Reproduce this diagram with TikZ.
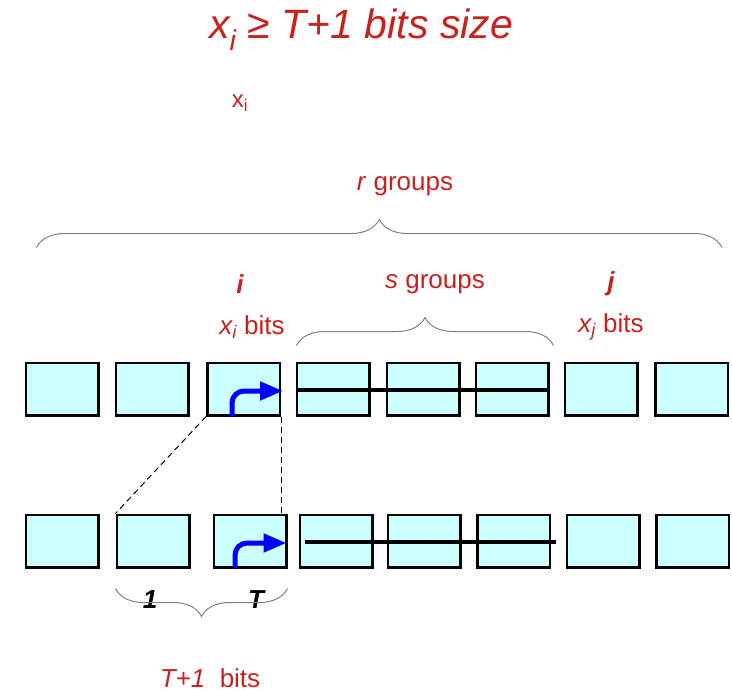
\documentclass[tikz,border=0pt]{standalone}
\usepackage{fontspec}
\setmainfont{Liberation Sans}
\usetikzlibrary{arrows.meta, decorations.pathreplacing}
\definecolor{labelred}{HTML}{C9211E}
\definecolor{cellfill}{HTML}{CCFFFF}
\tikzset{
  cell/.style={
    draw=black, line width=2.5pt, fill=cellfill,
    minimum width=72.5pt, minimum height=52.5pt, inner sep=0pt
  },
  lbl/.style={text=labelred, font=\fontsize{26}{30}\selectfont, inner sep=0pt},
  idx/.style={lbl, font=\fontsize{26}{30}\selectfont\bfseries\itshape},
  bitmark/.style={font=\fontsize{26}{30}\selectfont\bfseries\itshape, inner sep=0pt},
  grp/.style={draw=gray, line width=1pt, decorate, decoration={brace, amplitude=28pt}},
  flow/.style={draw=blue, line width=5pt, rounded corners=12pt,
    -{Triangle[length=23pt, width=18pt]}},
  link/.style={draw, line width=1pt, dash pattern=on 6pt off 4pt},
  run/.style={draw, line width=3.5pt},
}

\begin{document}
\begin{tikzpicture}[x=1pt, y=-1pt]
  \useasboundingbox (0,0) rectangle (732,694);

  % labels
  \node[lbl, font=\fontsize{41}{48}\selectfont\itshape] (title) at (361,30) {x\textsubscript{i} ≥ T+1 bits size};
  \node[lbl, font=\fontsize{24}{28}\selectfont] (xi) at (240,103) {x\textsubscript{i}};
  \node[lbl] (rgrp) at (405,186) {\textit{r} groups};
  \node[idx] (ilbl) at (240,284) {i};
  \node[lbl] (sgrp) at (435,284) {\textit{s} groups};
  \node[idx] (jlbl) at (611,284) {j};
  \node[lbl] (ibits) at (252,327) {\textit{x\textsubscript{i}} bits};
  \node[lbl] (jbits) at (611,327) {\textit{x\textsubscript{j}} bits};

  % upper row
  \node[cell] (a1) at (62,389) {};
  \node[cell] (a2) at (152,389) {};
  \node[cell] (a3) at (243.5,389) {};
  \node[cell] (a4) at (333,389) {};
  \node[cell] (a5) at (423,389) {};
  \node[cell] (a6) at (512,389) {};
  \node[cell] (a7) at (601,389) {};
  \node[cell] (a8) at (691.5,389) {};

  % lower row
  \node[cell] (b1) at (62,541) {};
  \node[cell] (b2) at (153,541) {};
  \node[cell] (b3) at (250,541) {};
  \node[cell] (b4) at (336,541) {};
  \node[cell] (b5) at (424,541) {};
  \node[cell] (b6) at (513.5,541) {};
  \node[cell] (b7) at (603,541) {};
  \node[cell] (b8) at (692.5,541) {};

  \node[bitmark] (one) at (150,600) {1};
  \node[bitmark] (tee) at (256,600) {T};
  \node[lbl] (tbits) at (210,678) {\textit{T+1}\ \ bits};

  % braces
  \draw[grp] ([xshift=12pt, yshift=114pt]a1.north west) -- ([xshift=-7pt, yshift=114pt]a8.north east);
  \draw[grp] ([xshift=1pt, yshift=16pt]a4.north west) -- ([xshift=4pt, yshift=16pt]a6.north east);
  \draw[grp] ([yshift=-20pt]b3.south east) -- ([yshift=-20pt]b2.south west);

  % runs through the s groups
  \draw[run] ([yshift=-1pt]a4.west) -- ([yshift=-1pt]a6.east);
  \draw[run] ([xshift=6pt, yshift=-1pt]b4.west) -- ([xshift=5pt, yshift=-1pt]b6.east);

  % bit pointers
  \draw[flow] ([xshift=-11.5pt]a3.south) |- ([xshift=2pt, yshift=-2pt]a3.east);
  \draw[flow] ([xshift=-15pt]b3.south) |- ([xshift=-1pt, yshift=-2pt]b3.east);

  % zoom lines
  \draw[link] (a3.south west) -- (b2.north west);
  \draw[link] (a3.south east) -- (a3.south east |- b3.north);
\end{tikzpicture}
\end{document}
